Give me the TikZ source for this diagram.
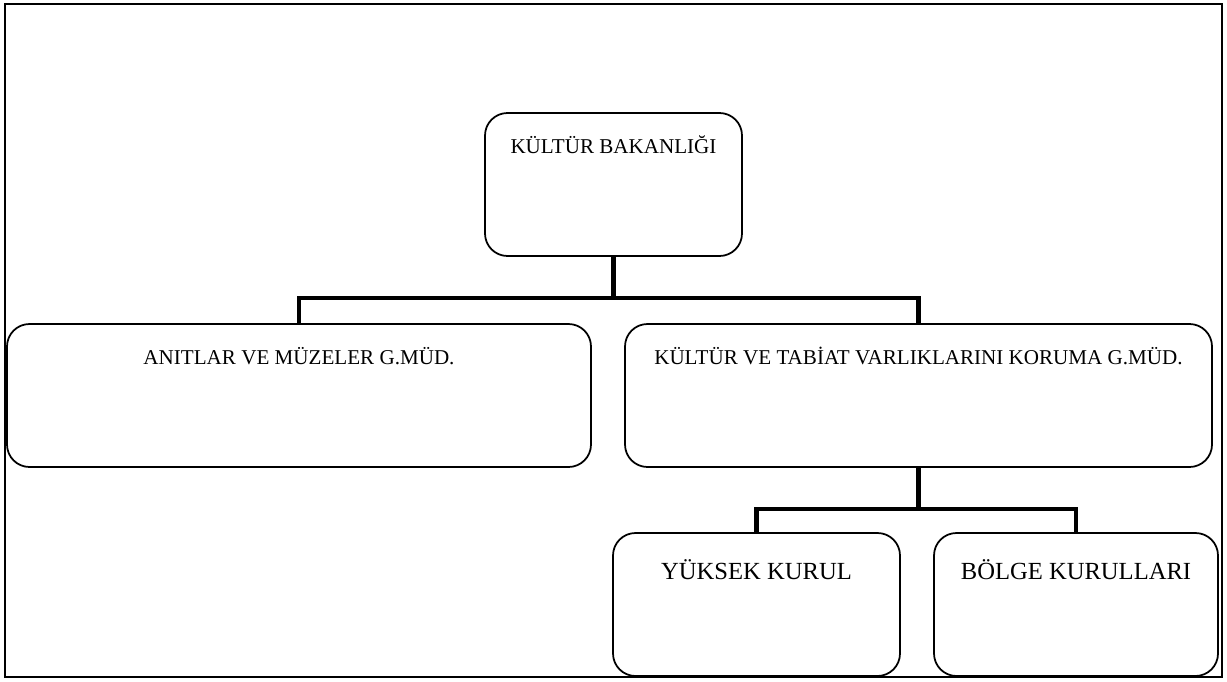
\documentclass[tikz,border=0pt]{standalone}
\usepackage{fontspec}
\setmainfont{Liberation Serif}
\usetikzlibrary{positioning}

\begin{document}
\begin{tikzpicture}[
  box/.style={rectangle, rounded corners=0.45cm, draw=black, line width=1pt,
              inner xsep=0pt, inner ysep=0pt, outer sep=0pt, align=center,
              font=\fontsize{12}{14}\selectfont,
              text height=0.8cm, text depth=2.06cm},
  bigbox/.style={box, font=\fontsize{14}{17}\selectfont,
                 text height=0.92cm, text depth=1.94cm},
  link/.style={line width=2.6pt, black},
  frame/.style={line width=0.6pt, black}
]

\useasboundingbox (0,0) rectangle (24.54,-13.62);
\draw[frame] (0.10,-0.08) rectangle (24.44,-13.54);

\node[box, minimum width=5.14cm, anchor=north] (bakanlik) at (12.27,-2.26)
  {KÜLTÜR BAKANLIĞI};

\node[box, minimum width=11.68cm, below=1.36cm of bakanlik, xshift=-6.29cm] (anitlar)
  {ANITLAR VE MÜZELER G.MÜD.};
\node[box, minimum width=11.74cm, below=1.36cm of bakanlik, xshift=6.10cm] (koruma)
  {KÜLTÜR VE TABİAT VARLIKLARINI KORUMA G.MÜD.};

\node[bigbox, minimum width=5.74cm, below=1.32cm of koruma, xshift=-3.24cm] (yuksek)
  {YÜKSEK KURUL};
\node[bigbox, minimum width=5.68cm, below=1.32cm of koruma, xshift=3.15cm] (bolge)
  {BÖLGE KURULLARI};

\draw[link] (bakanlik.south) -- ++(0,-0.84) -| (anitlar.north);
\draw[link] (bakanlik.south) -- ++(0,-0.84) -| (koruma.north);
\draw[link] (koruma.south) -- ++(0,-0.84) -| (yuksek.north);
\draw[link] (koruma.south) -- ++(0,-0.84) -| (bolge.north);

\end{tikzpicture}
\end{document}
